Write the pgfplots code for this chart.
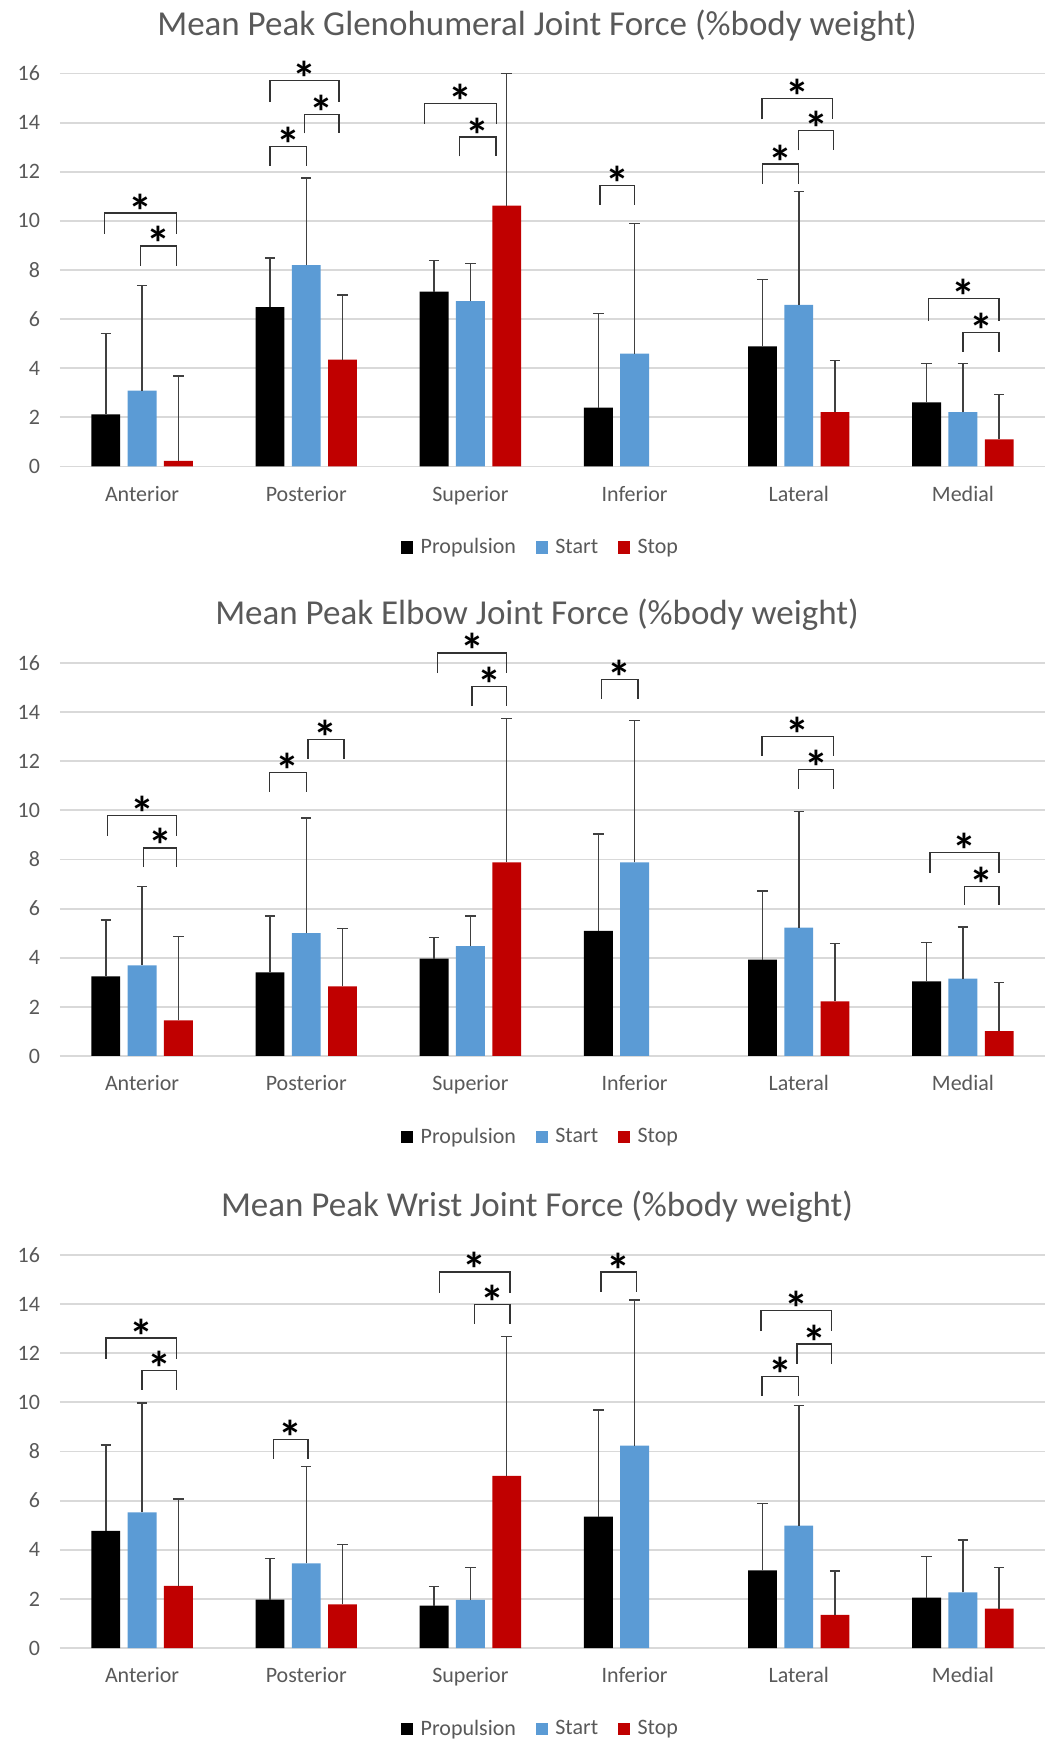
\documentclass[border=0pt]{standalone}
\usepackage{pgfplots}
\usepackage{pgfplotstable}
\usepackage{fontspec}
\pgfplotsset{compat=1.18}
\setmainfont{Carlito}

\definecolor{exblue}{HTML}{5B9BD5}
\definecolor{exred}{HTML}{C00000}
\definecolor{txtgrey}{HTML}{595959}
\definecolor{gridgrey}{HTML}{D9D9D9}
\definecolor{errgrey}{HTML}{404040}

% x: 0 Anterior ... 5 Medial ; e = upper error (SD)
\pgfplotstableread{
x  p     pe    s     se    t     te
0  2.12  3.30  3.09  4.28  0.23  3.45
1  6.49  1.99  8.20  3.54  4.35  2.63
2  7.12  1.27  6.73  1.53  10.62 5.38
3  2.40  3.82  4.59  5.30  nan   nan
4  4.89  2.72  6.58  4.62  2.21  2.11
5  2.61  1.59  2.21  1.99  1.10  1.83
}\gleno
\pgfplotstableread{
x  p     pe    s     se    t     te
0  3.24  2.30  3.69  3.21  1.45  3.41
1  3.40  2.29  5.00  4.68  2.83  2.37
2  3.96  0.86  4.47  1.22  7.88  5.87
3  5.09  3.95  7.88  5.78  nan   nan
4  3.92  2.80  5.23  4.73  2.22  2.35
5  3.04  1.58  3.15  2.10  1.01  1.99
}\elbow
\pgfplotstableread{
x  p     pe    s     se    t     te
0  4.77  3.50  5.52  4.45  2.53  3.54
1  1.97  1.68  3.45  3.94  1.78  2.44
2  1.73  0.77  1.96  1.31  7.01  5.67
3  5.35  4.34  8.24  5.92  nan   nan
4  3.16  2.72  4.98  4.90  1.35  1.78
5  2.05  1.67  2.26  2.14  1.60  1.67
}\wrist

% significance bracket: left x, right x, top y, leg end y
\newcommand{\brk}[4]{%
  \draw[black!80, line width=0.7pt] (axis cs:#1,#4) -- (axis cs:#1,#3) -- (axis cs:#2,#3) -- (axis cs:#2,#4);
  \node[anchor=base, inner sep=0pt, yshift=-7.5pt, font=\fontsize{24}{24}\selectfont\bfseries] at (axis cs:{(#1+#2)/2},#3) {*};
}

\pgfplotsset{
  panel/.style={
    scale only axis, width=492.5pt, height=196.5pt,
    xmin=-0.5, xmax=5.5, ymin=0, ymax=16,
    clip=false,
    axis line style={draw=none},
    major tick length=0pt,
    xtick={0,...,5},
    xticklabels={Anterior,Posterior,Superior,Inferior,Lateral,Medial},
    ytick={0,2,...,16},
    ymajorgrids,
    grid style={gridgrey, line width=0.9pt},
    ticklabel style={font=\fontsize{11}{13}\selectfont, text=txtgrey},
    /pgf/number format/assume math mode=true,
    xticklabel style={anchor=base, yshift=-17.3pt},
    yticklabel style={xshift=-6.5pt},
    title style={at={(0.4843,1)}, anchor=base, yshift=13.2pt,
      font=\fontsize{17.5}{20}\selectfont, text=txtgrey},
    legend style={at={(0.489,-0.206)}, anchor=center, draw=none,
      font=\fontsize{11}{13}\selectfont, text=txtgrey,
      legend columns=3,
      /tikz/every odd column/.append style={column sep=1.7pt},
      /tikz/every even column/.append style={column sep=8pt}},
    ybar, bar width=0.176,
    error bars/y dir=plus, error bars/y explicit,
    error bars/error mark options={rotate=90, mark size=2.6pt, line width=0.75pt, errgrey},
    error bars/error bar style={line width=0.75pt, errgrey},
  },
  sq/.style={legend image code/.code={\fill[##1] (0pt,-3.2pt) rectangle (6pt,3.2pt);}},
}

\begin{document}
\begin{tikzpicture}
\path[use as bounding box] (-30pt,-47pt) rectangle (497pt,824pt);

% ---------- glenohumeral ----------
\begin{axis}[panel, at={(0pt,590.75pt)},
  title={Mean Peak Glenohumeral Joint Force (\%body weight)}]
\addplot[fill=black, draw=none, bar shift=-0.221, sq] table[x=x, y=p, y error=pe] {\gleno};
\addplot[fill=exblue, draw=none, bar shift=0, sq] table[x=x, y=s, y error=se] {\gleno};
\addplot[fill=exred, draw=none, bar shift=0.221, sq] table[x=x, y=t, y error=te] {\gleno};
\legend{Propulsion, Start, Stop}
\brk{-0.23}{0.21}{10.32}{9.47}
\brk{-0.01}{0.21}{8.98}{8.18}
\brk{0.78}{1.20}{15.72}{14.83}
\brk{0.78}{1.00}{13.03}{12.24}
\brk{0.99}{1.20}{14.34}{13.56}
\brk{1.72}{2.16}{14.79}{13.96}
\brk{1.934}{2.156}{13.41}{12.63}
\brk{2.79}{3.00}{11.43}{10.66}
\brk{3.775}{4.205}{14.98}{14.13}
\brk{4.00}{4.21}{13.68}{12.87}
\brk{3.78}{4.00}{12.31}{11.52}
\brk{4.79}{5.22}{6.83}{5.93}
\brk{5.00}{5.22}{5.45}{4.67}
\end{axis}

% ---------- elbow ----------
\begin{axis}[panel, at={(0pt,296pt)},
  title={Mean Peak Elbow Joint Force (\%body weight)}]
\addplot[fill=black, draw=none, bar shift=-0.221, sq] table[x=x, y=p, y error=pe] {\elbow};
\addplot[fill=exblue, draw=none, bar shift=0, sq] table[x=x, y=s, y error=se] {\elbow};
\addplot[fill=exred, draw=none, bar shift=0.221, sq] table[x=x, y=t, y error=te] {\elbow};
\legend{Propulsion, Start, Stop}
\brk{-0.21}{0.21}{9.79}{8.96}
\brk{0.01}{0.21}{8.47}{7.69}
\brk{0.775}{1.00}{11.53}{10.75}
\brk{1.01}{1.23}{12.89}{12.11}
\brk{1.80}{2.22}{16.41}{15.59}
\brk{2.01}{2.22}{15.04}{14.24}
\brk{2.80}{3.02}{15.34}{14.55}
\brk{3.775}{4.21}{13.00}{12.22}
\brk{4.00}{4.21}{11.67}{10.89}
\brk{4.80}{5.22}{8.29}{7.46}
\brk{5.01}{5.22}{6.91}{6.15}
\end{axis}

% ---------- wrist ----------
\begin{axis}[panel, at={(0pt,0pt)},
  title={Mean Peak Wrist Joint Force (\%body weight)}]
\addplot[fill=black, draw=none, bar shift=-0.221, sq] table[x=x, y=p, y error=pe] {\wrist};
\addplot[fill=exblue, draw=none, bar shift=0, sq] table[x=x, y=s, y error=se] {\wrist};
\addplot[fill=exred, draw=none, bar shift=0.221, sq] table[x=x, y=t, y error=te] {\wrist};
\legend{Propulsion, Start, Stop}
\brk{-0.22}{0.21}{12.62}{11.78}
\brk{0.00}{0.21}{11.29}{10.51}
\brk{0.80}{1.01}{8.49}{7.70}
\brk{1.81}{2.24}{15.31}{14.47}
\brk{2.025}{2.24}{13.98}{13.20}
\brk{2.795}{3.01}{15.30}{14.50}
\brk{3.77}{4.20}{13.74}{12.90}
\brk{3.99}{4.20}{12.37}{11.57}
\brk{3.775}{4.00}{11.05}{10.26}
\end{axis}
\end{tikzpicture}
\end{document}
